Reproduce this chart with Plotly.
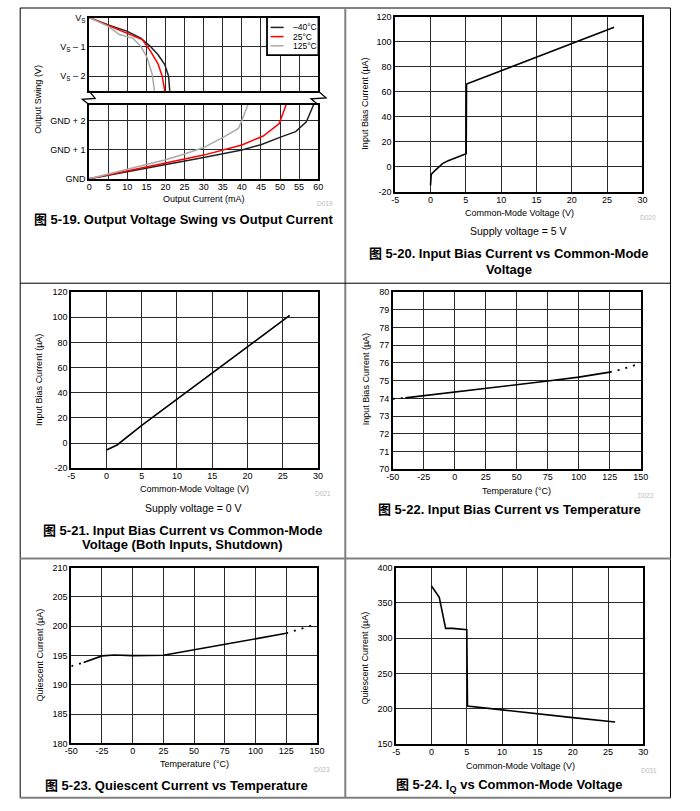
import plotly.graph_objects as go

W, H = 700, 811
FONT = "Liberation Sans, Arial, Noto Sans CJK SC, sans-serif"

# ---------------- DATA ----------------
# Fig 5-19: Output swing. Upper part = volts relative to Vs, lower part = volts above GND
temp_names = ["–40°C", "25°C", "125°C"]
temp_colors = ["#222222", "#ff0000", "#aaaaaa"]

hi_i_m40 = [0, 5, 10, 13.5, 16, 18, 19.8, 20.8, 21.1]
hi_v_m40 = [0, -0.25, -0.47, -0.7, -0.98, -1.26, -1.6, -2.0, -2.5]
hi_i_25 = [0, 5, 10, 13.9, 16.1, 18, 19.1, 19.8]
hi_v_25 = [0, -0.27, -0.55, -0.75, -1.15, -1.57, -1.99, -2.5]
hi_i_125 = [0, 5, 7.9, 11.4, 13.5, 15.2, 16.5, 17.1]
hi_v_125 = [0, -0.3, -0.58, -0.7, -0.98, -1.37, -1.93, -2.5]

lo_i_m40 = [0, 5, 10, 20, 30, 40, 45, 50.3, 54.1, 56.9, 58.8]
lo_v_m40 = [0, 0.12, 0.25, 0.5, 0.74, 1.0, 1.18, 1.45, 1.63, 1.97, 2.56]
lo_i_25 = [0, 5, 10, 20, 30, 40, 45.6, 49.8, 51.6]
lo_v_25 = [0, 0.14, 0.29, 0.55, 0.82, 1.17, 1.48, 1.91, 2.56]
lo_i_125 = [0, 5, 10, 20, 25, 30, 35.3, 39.1, 40, 41.6]
lo_v_125 = [0, 0.16, 0.33, 0.66, 0.86, 1.08, 1.45, 1.74, 2.02, 2.56]

swing_hi_vals = [0, -1, -2]
swing_hi_text = ["V<sub>S</sub>", "V<sub>S</sub> – 1", "V<sub>S</sub> – 2"]
swing_lo_vals = [0, 1, 2]
swing_lo_text = ["GND", "GND + 1", "GND + 2"]
current_ticks = list(range(0, 61, 5))

# Fig 5-20: Input bias current vs CM voltage, supply 5 V
cm_5v = [0, 0.1, 0.7, 1.7, 2.5, 5.05, 5.1, 26]
ib_5v = [-14.7, -6, -2.5, 2.6, 5, 10.5, 66.2, 111.4]

# Fig 5-21: Input bias current vs CM voltage, supply 0 V
cm_0v = [0, 1.5, 5, 10, 15, 20, 26]
ib_0v = [-5.5, -1.5, 14, 35, 56, 77, 101.5]

cm_ticks = [-5, 0, 5, 10, 15, 20, 25, 30]
cm_ticktext = ["-5", "0", "5", "10", "15", "20", "25", "30"]
ib_ticks = [-20, 0, 20, 40, 60, 80, 100, 120]
ib_ticktext = ["-20", "0", "20", "40", "60", "80", "100", "120"]

# Fig 5-22: Input bias current vs temperature
temp_ib = [-50, -40, -25, 0, 25, 50, 75, 100, 125, 135, 150]
ib_temp = [73.97, 74.03, 74.15, 74.38, 74.58, 74.78, 74.98, 75.2, 75.48, 75.65, 75.98]

# Fig 5-23: Quiescent current vs temperature
temp_iq = [-50, -40, -25, -15, 0, 25, 50, 75, 100, 125, 150]
iq_temp = [193.2, 193.8, 194.95, 195.1, 195.0, 195.05, 196.0, 197.0, 197.9, 198.8, 200.4]

temp_ticks = [-50, -25, 0, 25, 50, 75, 100, 125, 150]
temp_ticktext = ["-50", "-25", "0", "25", "50", "75", "100", "125", "150"]

# Fig 5-24: IQ vs CM voltage
cm_iq = [0, 1.1, 2, 3, 5, 5.1, 10, 15, 20, 26]
iq_cm = [374, 358, 314, 314, 312, 204, 198.5, 192.5, 187.5, 181.3]

# ---------------- HELPERS ----------------
def X(px):
    return px / W


def Y(py):
    return 1 - py / H


def dom_x(a, b):
    return [X(a), X(b)]


def dom_y(top, bottom):
    return [Y(bottom), Y(top)]


def axis(dom, rng, tickvals=None, ticktext=None, anchor=None, showlabels=True, matches=None, xax=False):
    d = dict(domain=dom, range=rng, showgrid=True, gridcolor="#2a2a2a", gridwidth=1.3,
             showline=True, linecolor="black", linewidth=1.8, mirror=True, ticks="",
             zeroline=False, fixedrange=True, showticklabels=showlabels,
             tickfont=dict(size=9, color="black", family=FONT))
    if xax:
        d["ticklabelstandoff"] = -2
    if tickvals is not None:
        d["tickmode"] = "array"
        d["tickvals"] = tickvals
        if ticktext is not None:
            d["ticktext"] = ticktext
    if anchor:
        d["anchor"] = anchor
    if matches:
        d["matches"] = matches
    return d


fig = go.Figure()

# Panel 1 traces
hi_sets = [(hi_i_m40, hi_v_m40), (hi_i_25, hi_v_25), (hi_i_125, hi_v_125)]
lo_sets = [(lo_i_m40, lo_v_m40), (lo_i_25, lo_v_25), (lo_i_125, lo_v_125)]
for k in range(3):
    fig.add_trace(go.Scatter(x=lo_sets[k][0], y=lo_sets[k][1], mode="lines", name=temp_names[k],
                             line=dict(color=temp_colors[k], width=1.5), xaxis="x", yaxis="y",
                             showlegend=False))
    fig.add_trace(go.Scatter(x=hi_sets[k][0], y=hi_sets[k][1], mode="lines", name=temp_names[k],
                             line=dict(color=temp_colors[k], width=1.5), xaxis="x2", yaxis="y2",
                             showlegend=False))

# Panel 2
fig.add_trace(go.Scatter(x=cm_5v, y=ib_5v, mode="lines", line=dict(color="black", width=1.6),
                         xaxis="x3", yaxis="y3", showlegend=False))
# Panel 3
fig.add_trace(go.Scatter(x=cm_0v, y=ib_0v, mode="lines", line=dict(color="black", width=1.6),
                         xaxis="x4", yaxis="y4", showlegend=False))


def split_solid_dotted(xs, ys, lo=-40, hi=125):
    sx, sy, dx, dy = [], [], [], []
    for x, y in zip(xs, ys):
        if lo <= x <= hi:
            sx.append(x); sy.append(y)
    for x, y in zip(xs, ys):
        if x <= lo:
            dx.append(x); dy.append(y)
    dx.append(None); dy.append(None)
    for x, y in zip(xs, ys):
        if x >= hi:
            dx.append(x); dy.append(y)
    return sx, sy, dx, dy


for (xs, ys, xa, ya) in [(temp_ib, ib_temp, "x5", "y5"), (temp_iq, iq_temp, "x6", "y6")]:
    sx, sy, dx, dy = split_solid_dotted(xs, ys)
    fig.add_trace(go.Scatter(x=sx, y=sy, mode="lines", line=dict(color="black", width=1.6),
                             xaxis=xa, yaxis=ya, showlegend=False))
    fig.add_trace(go.Scatter(x=dx, y=dy, mode="lines", line=dict(color="black", width=1.8, dash="2px,6px"),
                             xaxis=xa, yaxis=ya, showlegend=False))

# Panel 6
fig.add_trace(go.Scatter(x=cm_iq, y=iq_cm, mode="lines", line=dict(color="black", width=1.6),
                         xaxis="x7", yaxis="y7", showlegend=False))

layout = dict(
    width=W, height=H, margin=dict(l=0, r=0, t=0, b=0),
    paper_bgcolor="white", plot_bgcolor="white",
    font=dict(family=FONT, color="black"),
    showlegend=False,
)

# Panel 1 axes
layout["xaxis"] = axis(dom_x(84, 318), [0, 60], current_ticks, [str(v) for v in current_ticks], anchor="y", xax=True)
layout["yaxis"] = axis(dom_y(101, 176), [0, 2.56], swing_lo_vals, swing_lo_text, anchor="x")
layout["xaxis2"] = axis(dom_x(84, 318), [0, 60], current_ticks, None, anchor="y2", showlabels=False, matches="x")
layout["yaxis2"] = axis(dom_y(12.7, 87), [-2.5, 0], swing_hi_vals, swing_hi_text, anchor="x2")
# Panel 2
layout["xaxis3"] = axis(dom_x(396.7, 649.3), [-5, 30], cm_ticks, cm_ticktext, anchor="y3", xax=True)
layout["yaxis3"] = axis(dom_y(11.7, 189.3), [-20, 120], ib_ticks, ib_ticktext, anchor="x3")
# Panel 3
layout["xaxis4"] = axis(dom_x(65.7, 317.7), [-5, 30], cm_ticks, cm_ticktext, anchor="y4", xax=True)
layout["yaxis4"] = axis(dom_y(290.7, 469), [-20, 120], ib_ticks, ib_ticktext, anchor="x4")
# Panel 4
layout["xaxis5"] = axis(dom_x(394.3, 647.7), [-50, 150], temp_ticks, temp_ticktext, anchor="y5", xax=True)
layout["yaxis5"] = axis(dom_y(290.7, 470), [70, 80], list(range(70, 81)), None, anchor="x5")
# Panel 5
layout["xaxis6"] = axis(dom_x(65.7, 316.7), [-50, 150], temp_ticks, temp_ticktext, anchor="y6", xax=True)
layout["yaxis6"] = axis(dom_y(569.7, 747.7), [180, 210], list(range(180, 211, 5)), None, anchor="x6")
# Panel 6
layout["xaxis7"] = axis(dom_x(397.7, 650.3), [-5, 30], cm_ticks, cm_ticktext, anchor="y7", xax=True)
layout["yaxis7"] = axis(dom_y(569.7, 748.3), [150, 400], list(range(150, 401, 50)), None, anchor="x7")

fig.update_layout(**layout)

# ---------------- ANNOTATIONS ----------------
ann = []


def txt(text, x, y, size=9, bold=False, color="black", angle=0, xanchor="center"):
    t = f"<b>{text}</b>" if bold else text
    ann.append(dict(text=t, x=X(x), y=Y(y), xref="paper", yref="paper", showarrow=False,
                    xanchor=xanchor, yanchor="middle", textangle=angle,
                    font=dict(size=size, color=color, family=FONT)))


TS = 13
# Panel 1
txt("Output Current (mA)", 201, 196)
txt("Output Swing (V)", 31.5, 95, angle=-90)
txt("D019", 325, 201, size=6.5, color="#bbbbbb")
txt("图 5-19. Output Voltage Swing vs Output Current", 180, 216.7, size=TS, bold=True)
# Panel 2
txt("Common-Mode Voltage (V)", 523.3, 211)
txt("Input Bias Current (µA)", 365.7, 100, angle=-90)
txt("D020", 655, 215, size=6.5, color="#bbbbbb")
txt("Supply voltage = 5 V", 523, 229.3, size=10.5)
txt("图 5-20. Input Bias Current vs Common-Mode", 512.5, 252, size=TS, bold=True)
txt("Voltage", 512.5, 268, size=TS, bold=True)
# Panel 3
txt("Common-Mode Voltage (V)", 191.2, 490)
txt("Input Bias Current (µA)", 33.3, 380, angle=-90)
txt("D021", 323, 494.3, size=6.5, color="#bbbbbb")
txt("Supply voltage = 0 V", 191, 509.3, size=10.5)
txt("图 5-21. Input Bias Current vs Common-Mode", 179.7, 531.7, size=TS, bold=True)
txt("Voltage (Both Inputs, Shutdown)", 179.7, 546.7, size=TS, bold=True)
# Panel 4
txt("Temperature (°C)", 521, 491.7)
txt("Input Bias Current (µA)", 367.7, 379, angle=-90)
txt("D022", 653, 496.7, size=6.5, color="#bbbbbb")
txt("图 5-22. Input Bias Current vs Temperature", 513, 510.7, size=TS, bold=True)
# Panel 5
txt("Temperature (°C)", 191.7, 768)
txt("Quiescent Current (µA)", 33.3, 658, angle=-90)
txt("D023", 321.7, 774.3, size=6.5, color="#bbbbbb")
txt("图 5-23. Quiescent Current vs Temperature", 173.3, 790, size=TS, bold=True)
# Panel 6
txt("Common-Mode Voltage (V)", 524.3, 770)
txt("Quiescent Current (µA)", 365.7, 660.8, angle=-90)
txt("D031", 655.7, 775, size=6.5, color="#bbbbbb")
txt("图 5-24. I<sub>Q</sub> vs Common-Mode Voltage", 512.7, 790, size=TS, bold=True)

# Legend for panel 1 (manual)
leg_y = [22.7, 32, 41.3]
for k in range(3):
    txt(temp_names[k], 290, leg_y[k], size=8.5, xanchor="left")

fig.update_layout(annotations=ann)

# ---------------- SHAPES ----------------
shapes = []


def line(x0, y0, x1, y1, color="black", width=1):
    shapes.append(dict(type="line", xref="paper", yref="paper", x0=X(x0), y0=Y(y0), x1=X(x1), y1=Y(y1),
                       line=dict(color=color, width=width)))


def path(pts, color="black", width=1.3):
    d = "M " + " L ".join(f"{X(a):.5f},{Y(b):.5f}" for a, b in pts)
    shapes.append(dict(type="path", xref="paper", yref="paper", path=d, line=dict(color=color, width=width)))


# table frame
line(13.5, 3, 678, 3, color="#808080", width=2)
line(13.5, 3, 13.5, 803, color="black", width=1)
line(678, 3, 678, 803, color="black", width=1)
line(345.7, 3, 345.7, 803, color="#808080", width=2)
line(13.5, 281.7, 678, 281.7, color="black", width=1)
line(13.5, 560.5, 678, 560.5, color="#808080", width=2)
line(13.5, 802.7, 678, 802.7, color="#808080", width=2)

# axis-break zigzags
path([(84, 87), (90, 94.5), (77, 95.5), (84, 101)])
path([(318, 87), (326, 94), (310.7, 95), (318, 101)])

# legend box and samples
shapes.append(dict(type="rect", xref="paper", yref="paper", x0=X(265.7), x1=X(318.3), y0=Y(50.7), y1=Y(12.3),
                   fillcolor="white", line=dict(color="black", width=1.8), layer="above"))
for k in range(3):
    shapes.append(dict(type="line", xref="paper", yref="paper", x0=X(269.3), x1=X(282.7), y0=Y(leg_y[k]),
                       y1=Y(leg_y[k]), line=dict(color=temp_colors[k], width=1.5), layer="above"))

fig.update_layout(shapes=shapes)

fig.write_html("out.html", config={"displayModeBar": False},
               post_script="document.body.style.margin='0';document.body.style.overflow='hidden';")
